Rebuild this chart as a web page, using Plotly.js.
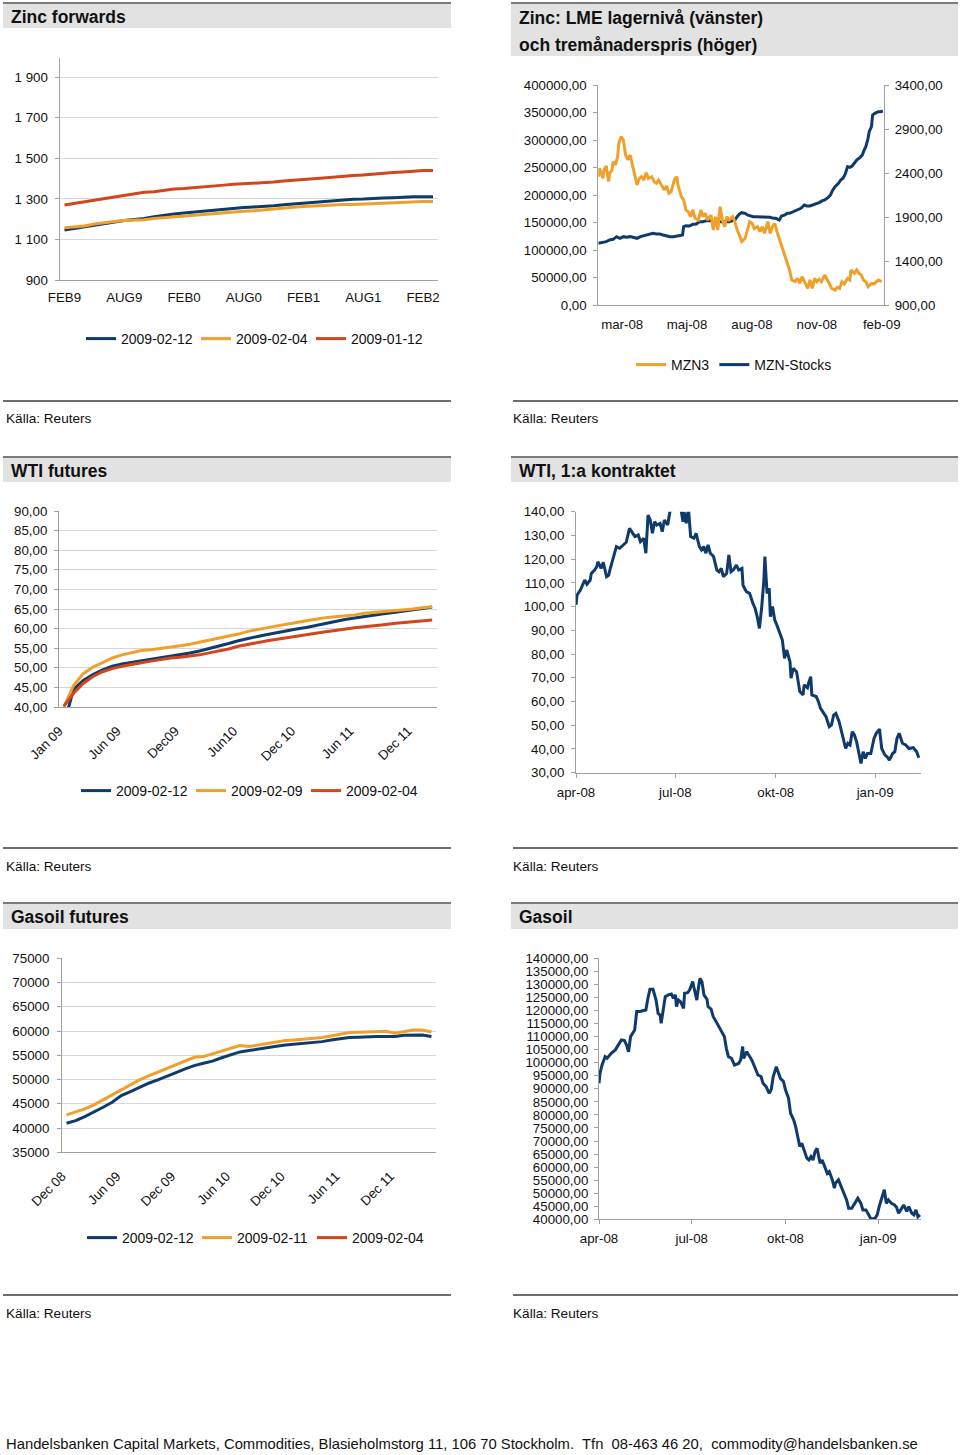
<!DOCTYPE html>
<html>
<head>
<meta charset="utf-8">
<script src="https://cdn.plot.ly/plotly-3.0.1.min.js"></script>
<style>
  html, body { margin: 0; padding: 0; background: #fff; }
  #chart { width: 960px; height: 1455px; }
</style>
</head>
<body>
<div id="chart"></div>
<script>
// ---------------- DATA ----------------
// Zinc forwards (monthly contracts)
const zincMonths = ['Feb09','Mar09','Apr09','May09','Jun09','Jul09','Aug09','Sep09','Oct09','Nov09','Dec09','Jan10',
  'Feb10','Mar10','Apr10','May10','Jun10','Jul10','Aug10','Sep10','Oct10','Nov10','Dec10','Jan11',
  'Feb11','Mar11','Apr11','May11','Jun11','Jul11','Aug11','Sep11','Oct11','Nov11','Dec11','Jan12','Feb12','Mar12'];
const zincTickLabels = ['FEB9','AUG9','FEB0','AUG0','FEB1','AUG1','FEB2'];
const zinc_20090212 = [1147,1155,1163,1171,1179,1186,1193,1198,1203,1212,1220,1226,1231,1236,1239,1243,1248,1253,1258,1260,1262,1266,1271,1275,1279,1283,1286,1290,1294,1298,1299,1300,1304,1306,1309,1311,1311,1311];
const zinc_20090204 = [1158,1161,1166,1176,1183,1189,1193,1195,1197,1203,1207,1211,1215,1220,1226,1230,1233,1237,1239,1242,1247,1252,1256,1259,1262,1265,1265,1268,1272,1273,1275,1276,1281,1282,1283,1286,1287,1287];
const zinc_20090112 = [1270,1278,1286,1294,1302,1310,1318,1326,1333,1335,1343,1349,1351,1356,1361,1363,1368,1372,1374,1378,1380,1383,1388,1393,1396,1400,1403,1408,1413,1415,1418,1423,1425,1430,1433,1438,1440,1440];

// Zinc LME: trading day number, 3-month price (MZN3) and stocks
const lmeTickDays = [21,78,135,192,249];
const lmeTickLabels = ['mar-08','maj-08','aug-08','nov-08','feb-09'];
const mzn3Day = [0,1,4,5,7,9,10,12,13,15,17,18,20,22,24,26,28,30,32,34,36,38,40,42,44,47,49,51,53,56,58,60,62,64,67,69,70,73,75,77,79,81,83,85,88,90,92,94,96,99,101,103,105,107,109,111,113,115,118,120,122,124,126,129,131,133,135,137,140,142,144,146,149,151,153,155,157,159,161,164,166,168,170,173,175,177,179,181,184,186,188,190,192,194,196,199,201,203,205,208,210,212,214,216,219,221,222,225,227,229,231,233,235,237,240,242,244,246,249];
const mzn3 = [2358,2453,2339,2434,2480,2302,2396,2434,2529,2491,2586,2737,2813,2775,2605,2548,2605,2491,2415,2264,2339,2358,2320,2404,2339,2358,2302,2283,2320,2245,2207,2252,2169,2188,2328,2358,2264,2131,2093,1980,1961,1904,1980,1885,1866,1980,1904,1942,1866,1923,1752,1904,1752,2017,1866,1790,1904,1866,1904,1847,1752,1695,1620,1658,1752,1847,1828,1771,1790,1733,1790,1714,1847,1714,1790,1828,1733,1658,1563,1468,1373,1298,1184,1165,1203,1146,1222,1165,1089,1184,1089,1203,1165,1192,1165,1241,1184,1139,1089,1070,1101,1089,1165,1139,1203,1184,1298,1260,1298,1260,1241,1184,1165,1108,1146,1139,1165,1184,1165];
const stocksDay = [0,4,7,10,13,16,19,22,25,28,31,34,37,39,42,45,48,51,54,57,60,63,66,69,72,74,75,77,80,83,86,89,92,95,98,101,104,107,110,113,115,118,120,122,124,126,129,131,133,136,139,142,145,148,151,154,156,159,161,164,166,168,171,174,176,178,181,183,186,189,192,194,197,199,202,204,206,208,211,213,215,217,219,221,223,225,227,230,232,233,235,237,238,240,241,243,246,248,250];
const mznStocks = [112130,113950,115160,118190,119400,124250,121220,124250,123040,124250,123040,121220,124250,125460,127280,129100,130310,129100,129100,127280,125460,124250,124250,125460,125460,127280,142430,144250,143640,146680,147280,151520,151520,153340,153340,151520,151520,151520,151520,151520,151520,153340,154560,160620,165470,167890,166680,163650,162440,160620,160620,160620,160620,159410,159410,157590,157590,154560,161830,163650,166680,166680,169710,171530,173950,175770,181830,180010,180010,181830,183650,186070,189710,190920,195770,200010,209100,215160,221220,227290,230320,238200,251530,250320,252740,257590,263650,268500,272740,278800,287900,303050,315170,324260,345480,348510,351540,351540,352750];

// WTI futures curve (monthly contracts)
const wtiFutTickPos = [-0.5,5.5,11.5,17.5,23.5,29.5,35.5];
const wtiFutTickLabels = ['Jan 09','Jun 09','Dec09','Jun10','Dec 10','Jun 11','Dec 11'];
const wti_20090212 = [35.5,44.5,46.8,48.3,49.5,50.4,51.0,51.4,51.8,52.1,52.5,52.9,53.3,53.8,54.3,54.9,55.6,56.2,56.9,57.5,58.0,58.5,59.0,59.5,59.9,60.3,60.8,61.4,61.9,62.3,62.7,63.1,63.5,63.8,64.1,64.4,64.8,65.1,65.5];
const wti_20090209 = [40.0,45.5,48.5,50.2,51.3,52.5,53.3,53.8,54.4,54.6,54.9,55.2,55.6,56.0,56.5,57.1,57.6,58.0,58.6,59.3,59.8,60.2,60.7,61.1,61.6,62.0,62.4,62.8,63.0,63.2,63.5,63.9,64.1,64.3,64.6,64.8,65.0,65.3,65.6];
const wti_20090204 = [40.2,43.5,46.0,47.8,49.0,49.8,50.4,50.9,51.3,51.7,52.1,52.5,52.7,53.0,53.3,53.8,54.3,54.8,55.5,56.0,56.4,56.9,57.3,57.7,58.1,58.5,58.9,59.2,59.5,59.9,60.2,60.5,60.7,61.0,61.3,61.5,61.7,62.0,62.2];

// WTI 1st contract (days since 1 Apr 2008)
const dailyTickDays = [0,91,183,274];
const dailyTickLabels = ['apr-08','jul-08','okt-08','jan-09'];
const wtiDay = [0,1,4,7,8,10,13,14,17,19,20,23,25,28,30,31,34,37,40,43,46,49,51,54,57,59,62,64,66,68,70,72,74,77,79,81,84,86,89,92,95,98,99,101,103,105,108,110,113,115,117,119,121,123,126,129,131,133,135,138,140,142,144,147,149,152,153,156,159,162,164,166,168,170,172,173,175,177,178,180,182,184,187,189,191,193,196,197,199,202,205,208,209,212,213,215,216,220,222,224,227,229,232,234,236,238,241,243,245,247,249,251,253,255,257,259,261,263,265,267,270,273,275,278,280,283,285,287,290,292,294,296,299,302,305,309,312,314];
const wti1st = [100.8,104.9,107,109.8,111.2,109.4,111.2,114,115.4,116.8,118.9,116.1,118.7,112.6,113.3,115.4,120.3,125.3,124.6,126,127.1,133,131.6,129.5,130.2,127.4,128.8,122.5,138.6,136.5,130.9,135.8,134.4,135.1,131.6,136.5,134.4,140,141.4,142.8,144.2,135.8,140,135.1,141.4,129.5,128.8,130.9,125.3,123.9,125.3,122.5,126,122.5,121.1,115.4,114.7,116.1,112.6,114,121.8,114.7,115.4,117.5,115.4,116.1,109,106.3,105.6,101.4,99.3,95.7,90.8,99.3,110.5,121.1,105.6,107.7,95.7,100,94.4,92.2,88,85.9,78.2,81.7,76.8,69.8,74,72.6,64.2,62.8,67,65.8,67.7,70.5,62.8,62.1,60,57.1,55,53.6,49.4,50.1,54.3,55,51.5,47.3,44.4,40.2,42.4,41.7,47.3,45.9,43.1,38.8,33.9,38.8,36,38.1,38.1,44.4,46.6,48.4,40.2,37.4,36.7,35.3,38.1,38.8,44.4,46.6,42.4,41.7,40.2,40.6,38.8,36.3];

// Gasoil futures curve (monthly contracts)
const gasFutTickPos = [-0.5,5.5,11.5,17.5,23.5,29.5,35.5];
const gasFutTickLabels = ['Dec 08','Jun 09','Dec 09','Jun 10','Dec 10','Jun 11','Dec 11'];
const gas_20090212 = [40990,41540,42370,43260,44290,45320,46700,47520,48410,49240,49920,50610,51440,52190,52880,53360,53800,54500,55100,55700,55970,56310,56590,56860,57140,57280,57410,57620,57820,58170,58440,58650,58720,58860,58860,58860,58860,59130,59200,59200,58860];
const gas_20090211 = [42710,43260,43950,44770,45800,46830,48000,49030,49920,50750,51500,52330,53150,53910,54600,54730,55280,55970,56450,57000,56800,57140,57480,57690,58030,58170,58300,58510,58650,58990,59400,59680,59750,59820,59950,59950,59540,59890,60230,60230,59820];
const gas_20090204 = [null];   // series listed in legend, no visible values

// Gasoil front month (days since 1 Apr 2008)
const gasDay = [0,1,3,6,8,10,12,16,19,22,25,27,29,31,35,37,40,43,46,48,50,53,56,58,60,61,63,65,68,71,73,75,76,78,80,83,84,87,89,92,93,96,97,99,101,103,106,107,110,112,114,115,118,120,123,125,127,130,133,137,139,141,142,145,147,150,152,156,159,161,164,167,169,171,174,176,178,181,183,186,188,191,193,195,197,199,201,204,206,208,210,212,214,217,219,222,224,226,229,231,232,235,237,240,243,245,248,251,254,257,259,262,265,267,271,273,275,278,280,282,284,287,290,292,294,297,299,302,304,307,309,311,313,315];
const gasoil = [92100,96000,99100,102300,101700,102600,103600,104900,106800,108700,108500,106800,104200,110000,112500,119600,119600,120000,120200,124700,128100,128100,124000,118900,118300,115100,120800,125300,126000,126300,124700,126000,121500,124000,123400,120800,126600,126800,127900,131100,129100,124000,127200,132300,131100,126000,124300,121500,120500,117700,116400,115700,113200,111900,110000,105500,102300,101700,99100,99700,101000,106200,101700,104200,103000,101000,99100,95300,94700,92100,90800,88300,89600,94700,98500,96000,94000,92800,89600,86400,80600,78100,75500,71700,67900,69100,66600,63400,62700,64000,62700,65900,67200,61500,62700,59500,57600,58300,55100,51900,53800,55100,53200,50000,47400,44200,44200,46100,48100,46100,43600,43600,41700,40000,40400,41700,44900,48700,51300,46100,47400,46100,45500,44600,42300,44200,45500,43000,44900,42300,41700,43600,41000,41700];

// ---------------- LAYOUT HELPERS ----------------
const W = 960, H = 1455;
const FONT = 'Liberation Sans, Arial, sans-serif';
const BLUE = '#0f3a6c', ORANGE = '#f0a02a', RED = '#d2461a';
const AXC = '#a0a0a0', GRIDC = '#d6d6d6';
const xd = (a, b) => [a / W, b / W];
const yd = (top, bot) => [1 - bot / H, 1 - top / H];
const px = v => v / W;
const py = v => 1 - v / H;
const tickfont = {family: FONT, size: 13.3, color: '#111'};

function idx(arr) { return arr.map((_, i) => i); }

function line(x, y, xa, ya, name, color, legend, show) {
  return {type: 'scatter', mode: 'lines', x: x, y: y, xaxis: xa, yaxis: ya, name: name,
    line: {color: color, width: 3}, legend: legend, showlegend: show !== false, hoverinfo: 'skip'};
}

const data = [
  line(idx(zincMonths), zinc_20090212, 'x', 'y', '2009-02-12', BLUE, 'legend'),
  line(idx(zincMonths), zinc_20090204, 'x', 'y', '2009-02-04', ORANGE, 'legend'),
  line(idx(zincMonths), zinc_20090112, 'x', 'y', '2009-01-12', RED, 'legend'),

  line(stocksDay, mznStocks, 'x2', 'y2', 'MZN-Stocks', BLUE, 'legend2', false),
  line(mzn3Day, mzn3, 'x2', 'y3', 'MZN3', ORANGE, 'legend2'),

  line(idx(wti_20090212), wti_20090212, 'x3', 'y4', '2009-02-12', BLUE, 'legend3'),
  line(idx(wti_20090209), wti_20090209, 'x3', 'y4', '2009-02-09', ORANGE, 'legend3'),
  line(idx(wti_20090204), wti_20090204, 'x3', 'y4', '2009-02-04', RED, 'legend3'),

  line(wtiDay, wti1st, 'x4', 'y5', 'WTI', BLUE, 'legend', false),

  line(idx(gas_20090212), gas_20090212, 'x5', 'y6', '2009-02-12', BLUE, 'legend4'),
  line(idx(gas_20090211), gas_20090211, 'x5', 'y6', '2009-02-11', ORANGE, 'legend4'),
  line(idx(gas_20090204), gas_20090204, 'x5', 'y6', '2009-02-04', RED, 'legend4'),

  line(gasDay, gasoil, 'x6', 'y7', 'Gasoil', BLUE, 'legend', false)
];
// Legend-only entry for MZN-Stocks so that MZN3 comes first in its legend
data.push({type: 'scatter', mode: 'lines', x: [null], y: [null], xaxis: 'x2', yaxis: 'y2',
  name: 'MZN-Stocks', line: {color: BLUE, width: 3}, legend: 'legend2', hoverinfo: 'skip'});

function xaxisBase(extra) {
  return Object.assign({showgrid: false, zeroline: false, showline: true, linecolor: AXC, linewidth: 1,
    tickfont: tickfont, fixedrange: true, ticks: '', tickmode: 'array'}, extra);
}
function yaxisBase(extra) {
  return Object.assign({zeroline: false, showline: true, linecolor: AXC, linewidth: 1,
    tickfont: tickfont, fixedrange: true, ticks: 'outside', ticklen: 4, tickcolor: AXC,
    gridcolor: GRIDC, gridwidth: 1}, extra);
}
function legendAt(x, y, ew) {
  const l = {x: px(x), y: py(y), xanchor: 'left', yanchor: 'middle', orientation: 'h',
    bgcolor: 'rgba(0,0,0,0)', borderwidth: 0,
    font: {family: FONT, size: 14, color: '#111'}, itemclick: false, itemdoubleclick: false};
  if (ew) { l.entrywidth = ew; l.entrywidthmode = 'pixels'; }
  return l;
}

const layout = {
  width: W, height: H, margin: {l: 0, r: 0, t: 0, b: 0},
  paper_bgcolor: '#fff', plot_bgcolor: 'rgba(0,0,0,0)',
  separators: ', ',
  font: {family: FONT, color: '#111'},
  hovermode: false,

  // Panel 1: Zinc forwards
  xaxis: xaxisBase({domain: xd(59.5, 438), range: [-0.5, 37.5], anchor: 'y',
    tickvals: [0, 6, 12, 18, 24, 30, 36], ticktext: zincTickLabels, ticklabelstandoff: 5}),
  yaxis: yaxisBase({domain: yd(58, 280), range: [900, 1995], anchor: 'x', tick0: 900, dtick: 200,
    tickformat: ',', showgrid: true, ticklabelstandoff: 4}),

  // Panel 2: Zinc LME
  xaxis2: xaxisBase({domain: xd(598.3, 884), range: [0, 251], anchor: 'y2',
    tickvals: lmeTickDays, ticktext: lmeTickLabels, ticklabelstandoff: 7}),
  yaxis2: yaxisBase({domain: yd(85, 305), range: [0, 400000], anchor: 'x2', dtick: 50000,
    tickformat: '.2f', showgrid: false, ticklabelstandoff: 4}),
  yaxis3: yaxisBase({range: [900, 3400], anchor: 'x2', overlaying: 'y2', side: 'right',
    tick0: 900, dtick: 500, tickformat: '.2f', showgrid: false, ticklabelstandoff: 3}),

  // Panel 3: WTI futures
  xaxis3: xaxisBase({domain: xd(59, 437), range: [-0.5, 38.5], anchor: 'y4',
    tickvals: wtiFutTickPos, ticktext: wtiFutTickLabels, tickangle: -45, ticklabelstandoff: 10}),
  yaxis4: yaxisBase({domain: yd(511, 707), range: [40, 90], anchor: 'x3', dtick: 5,
    tickformat: '.2f', showgrid: true, ticklabelstandoff: 4}),

  // Panel 4: WTI 1st contract
  xaxis4: xaxisBase({domain: xd(576, 921), range: [0, 316], anchor: 'y5',
    tickvals: dailyTickDays, ticktext: dailyTickLabels, ticks: 'outside', ticklen: 4, tickcolor: AXC,
    ticklabelstandoff: 3}),
  yaxis5: yaxisBase({domain: yd(511.7, 772.7), range: [30, 140], anchor: 'x4', dtick: 10,
    tickformat: '.2f', showgrid: false, ticklabelstandoff: 4}),

  // Panel 5: Gasoil futures
  xaxis5: xaxisBase({domain: xd(62, 436), range: [-0.5, 40.5], anchor: 'y6',
    tickvals: gasFutTickPos, ticktext: gasFutTickLabels, tickangle: -45, ticklabelstandoff: 10}),
  yaxis6: yaxisBase({domain: yd(958.3, 1152.3), range: [35000, 75000], anchor: 'x5', dtick: 5000,
    tickformat: 'd', showgrid: true, ticklabelstandoff: 5}),

  // Panel 6: Gasoil
  xaxis6: xaxisBase({domain: xd(599, 921), range: [0, 316], anchor: 'y7',
    tickvals: dailyTickDays, ticktext: dailyTickLabels, ticks: 'outside', ticklen: 4, tickcolor: AXC,
    ticklabelstandoff: 3}),
  yaxis7: yaxisBase({domain: yd(958.3, 1219.3), range: [40000, 140000], anchor: 'x6', dtick: 5000,
    tickformat: '.2f', showgrid: false, ticklabelstandoff: 3}),

  legend: legendAt(81, 339, 70),
  legend2: legendAt(631, 365, 0),
  legend3: legendAt(76, 791, 70),
  legend4: legendAt(82, 1238, 70),

  shapes: [],
  annotations: []
};

// Title bars
const bars = [
  [3, 451, 3, 28], [511, 958, 3, 56],
  [3, 451, 457, 482], [511, 958, 457, 482],
  [3, 451, 903, 929], [511, 958, 903, 929]
];
bars.forEach(b => {
  layout.shapes.push({type: 'rect', xref: 'paper', yref: 'paper', layer: 'below',
    x0: px(b[0]), x1: px(b[1]), y0: py(b[3]), y1: py(b[2]), fillcolor: '#e2e2e2', line: {width: 0}});
  layout.shapes.push({type: 'line', xref: 'paper', yref: 'paper',
    x0: px(b[0]), x1: px(b[1]), y0: py(b[2]), y1: py(b[2]), line: {color: '#7a7a7a', width: 2}});
});
// Source separators
[401, 848, 1295].forEach(y => {
  layout.shapes.push({type: 'line', xref: 'paper', yref: 'paper', x0: px(3), x1: px(451), y0: py(y), y1: py(y), line: {color: '#3c3c3c', width: 1.5}});
  layout.shapes.push({type: 'line', xref: 'paper', yref: 'paper', x0: px(513), x1: px(958), y0: py(y), y1: py(y), line: {color: '#3c3c3c', width: 1.5}});
});

function text(x, y, t, size, bold, anchor) {
  layout.annotations.push({xref: 'paper', yref: 'paper', x: px(x), y: py(y), xanchor: anchor || 'left', yanchor: 'middle',
    text: bold ? '<b>' + t + '</b>' : t, showarrow: false,
    font: {family: FONT, size: size, color: '#111'}});
}
text(9, 17, 'Zinc forwards', 17.5, true);
text(517, 18, 'Zinc: LME lagernivå (vänster)', 17.5, true);
text(517, 45, 'och tremånaderspris (höger)', 17.5, true);
text(9, 471, 'WTI futures', 17.5, true);
text(517, 471, 'WTI, 1:a kontraktet', 17.5, true);
text(9, 917, 'Gasoil futures', 17.5, true);
text(517, 917, 'Gasoil', 17.5, true);

[419, 866, 1313].forEach(y => {
  text(4, y, 'Källa: Reuters', 13.6, false);
  text(511, y, 'Källa: Reuters', 13.6, false);
});
text(4, 1444, 'Handelsbanken Capital Markets, Commodities, Blasieholmstorg 11, 106 70 Stockholm.&nbsp; Tfn&nbsp; 08-463 46 20,&nbsp; commodity@handelsbanken.se', 14.8, false);

Plotly.newPlot('chart', data, layout, {displayModeBar: false, staticPlot: true});
</script>
</body>
</html>
